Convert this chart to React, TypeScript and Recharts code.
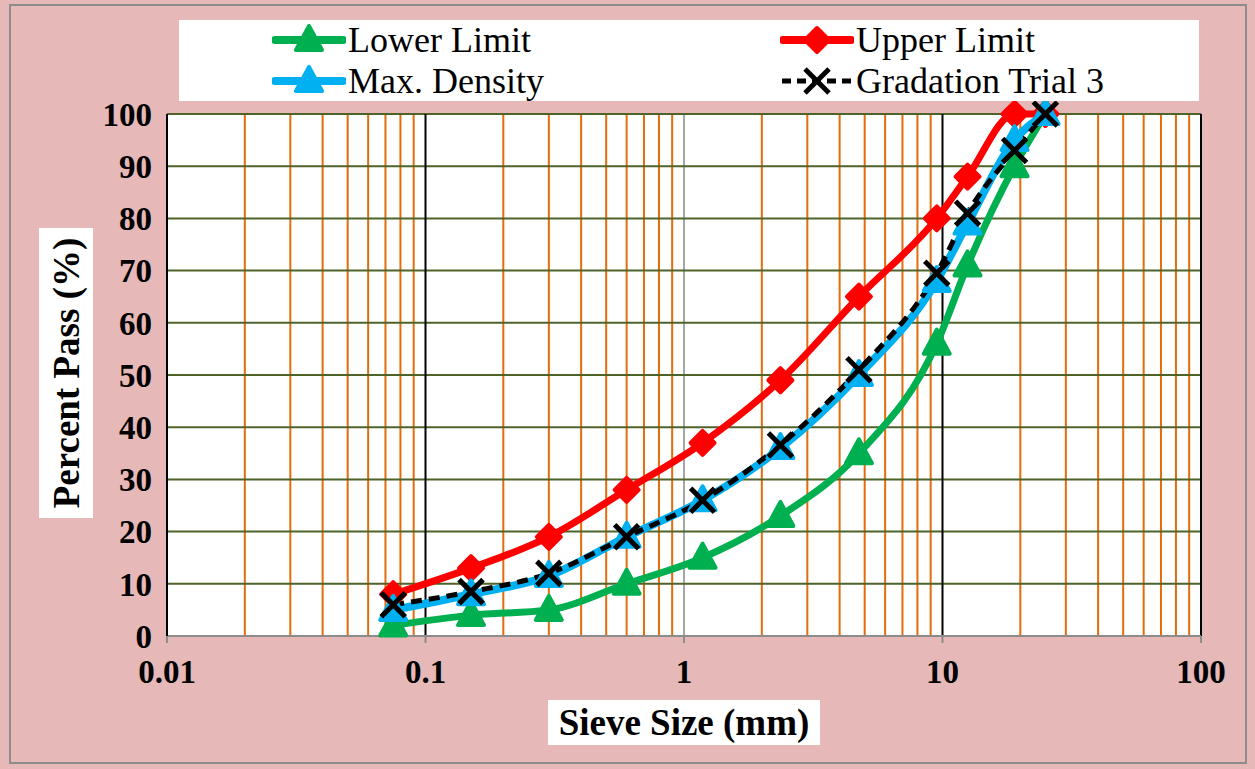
import React from 'react';
import { LineChart, Line, XAxis, YAxis, CartesianGrid, Label } from 'recharts';

const sieveSizes = [0.075, 0.15, 0.3, 0.6, 1.18, 2.36, 4.75, 9.5, 12.5, 19, 25];
const lowerLimit = [2, 4, 5, 10, 15, 23, 35, 56, 71, 90, 100];
const upperLimit = [8, 13, 19, 28, 37, 49, 65, 80, 88, 100, 100];
const maxDensity = [5, 8, 11.5, 19, 26, 36, 50, 68, 79, 95, 100];
const gradationTrial3 = [6, 8.5, 12, 19, 26, 36.6, 51, 69.5, 81, 93, 100];

const xTicks = [0.01, 0.1, 1, 10, 100];
const xTickLabels = ['0.01', '0.1', '1', '10', '100'];
const yTicks = [0, 10, 20, 30, 40, 50, 60, 70, 80, 90, 100];
const minorXTicks = [
  0.02, 0.03, 0.04, 0.05, 0.06, 0.07, 0.08, 0.09,
  0.2, 0.3, 0.4, 0.5, 0.6, 0.7, 0.8, 0.9,
  2, 3, 4, 5, 6, 7, 8, 9,
  20, 30, 40, 50, 60, 70, 80, 90,
];
const blackMajorX = [0.1, 10, 100];
const greyMajorX = [1];

const seriesNames = ['Lower Limit', 'Upper Limit', 'Max. Density', 'Gradation Trial 3'];

const data = sieveSizes.map((s, i) => ({
  size: s,
  lower: lowerLimit[i],
  upper: upperLimit[i],
  maxd: maxDensity[i],
  grad: gradationTrial3[i],
}));

const FONT = '"Liberation Serif", "Times New Roman", serif';
const GREEN = '#00B050';
const RED = '#FF0000';
const BLUE = '#00B0F0';
const PINK = '#E6B8B7';

const Triangle = ({ cx, cy, color }: any) => (
  <polygon
    points={`${cx},${cy - 14} ${cx - 13},${cy + 10} ${cx + 13},${cy + 10}`}
    fill={color}
    stroke={color}
    strokeWidth={4}
    strokeLinejoin="round"
  />
);
const Diamond = ({ cx, cy, color }: any) => (
  <polygon
    points={`${cx},${cy - 12} ${cx + 12},${cy} ${cx},${cy + 12} ${cx - 12},${cy}`}
    fill={color}
    stroke={color}
    strokeWidth={4}
    strokeLinejoin="round"
  />
);
const Cross = ({ cx, cy }: any) => (
  <g stroke="#000" strokeWidth={5}>
    <line x1={cx - 12} y1={cy - 12} x2={cx + 12} y2={cy + 12} />
    <line x1={cx - 12} y1={cy + 12} x2={cx + 12} y2={cy - 12} />
  </g>
);

const dotFn = (kind: string) => (props: any) => {
  const { cx, cy, index } = props;
  if (cx == null || cy == null) return <g key={`d${kind}${index}`} />;
  let el;
  if (kind === 'lower') el = <Triangle cx={cx} cy={cy} color={GREEN} />;
  else if (kind === 'upper') el = <Diamond cx={cx} cy={cy} color={RED} />;
  else if (kind === 'maxd') el = <Triangle cx={cx} cy={cy} color={BLUE} />;
  else el = <Cross cx={cx} cy={cy} />;
  return <g key={`d${kind}${index}`}>{el}</g>;
};

const genFor = (values: number[]) => (props: any) => {
  const { xAxis, offset } = props;
  if (xAxis && typeof xAxis.scale === 'function') {
    return values.map((v) => xAxis.scale(v));
  }
  return values.map((v) => offset.left + (offset.width * (Math.log10(v) + 2)) / 4);
};

const LegendIcon = ({ kind }: { kind: string }) => {
  const w = 74;
  const h = 32;
  const cy = 16;
  const cx = 37;
  let body;
  if (kind === 'lower')
    body = (
      <>
        <line x1={3} y1={cy} x2={w - 3} y2={cy} stroke={GREEN} strokeWidth={8} strokeLinecap="round" />
        <Triangle cx={cx} cy={cy} color={GREEN} />
      </>
    );
  else if (kind === 'upper')
    body = (
      <>
        <line x1={3} y1={cy} x2={w - 3} y2={cy} stroke={RED} strokeWidth={8} strokeLinecap="round" />
        <Diamond cx={cx} cy={cy} color={RED} />
      </>
    );
  else if (kind === 'maxd')
    body = (
      <>
        <line x1={3} y1={cy} x2={w - 3} y2={cy} stroke={BLUE} strokeWidth={8} strokeLinecap="round" />
        <Triangle cx={cx} cy={cy} color={BLUE} />
      </>
    );
  else
    body = (
      <>
        <line x1={2} y1={cy} x2={w - 2} y2={cy} stroke="#000" strokeWidth={5} strokeDasharray="9 6" />
        <Cross cx={cx} cy={cy} />
      </>
    );
  return (
    <svg width={w} height={h} style={{ display: 'block' }}>
      {body}
    </svg>
  );
};

const legendKinds = ['lower', 'upper', 'maxd', 'grad'];
const legendPos = [
  { left: 93, top: 4 },
  { left: 601, top: 4 },
  { left: 93, top: 45 },
  { left: 601, top: 45 },
];

const YTitle = (props: any) => {
  const vb = props.viewBox || { x: 0, y: 114, width: 167, height: 522 };
  const cx = 66;
  const cy = vb.y + vb.height / 2 - 2;
  return (
    <g>
      <rect x={cx - 27} y={cy - 145} width={54} height={290} fill="#fff" />
      <text
        x={cx}
        y={cy}
        transform={`rotate(-90 ${cx} ${cy})`}
        textAnchor="middle"
        dominantBaseline="central"
        fontFamily={FONT}
        fontWeight="bold"
        fontSize={37}
        fill="#000"
      >
        Percent Pass (%)
      </text>
    </g>
  );
};

const XTitle = (props: any) => {
  const vb = props.viewBox || { x: 167, y: 636, width: 1034, height: 133 };
  const cx = vb.x + vb.width / 2;
  const cy = 722;
  return (
    <g>
      <rect x={cx - 136} y={cy - 22} width={272} height={45} fill="#fff" />
      <text
        x={cx}
        y={cy}
        textAnchor="middle"
        dominantBaseline="central"
        fontFamily={FONT}
        fontWeight="bold"
        fontSize={37}
        fill="#000"
      >
        Sieve Size (mm)
      </text>
    </g>
  );
};

export default function App() {
  return (
    <div
      style={{
        position: 'absolute',
        left: 0,
        top: 0,
        width: 1255,
        height: 769,
        background: PINK,
        fontFamily: FONT,
      }}
    >
      <div
        style={{
          position: 'absolute',
          left: 9,
          top: 4,
          width: 1238,
          height: 760,
          border: '2px solid #8C8C8C',
          boxSizing: 'border-box',
        }}
      />
      <LineChart
        width={1255}
        height={769}
        data={data}
        margin={{ top: 114, right: 54, left: 0, bottom: 0 }}
        style={{ position: 'absolute', left: 0, top: 0 }}
      >
        <CartesianGrid
          stroke="#E46C0A"
          strokeWidth={2}
          horizontal={false}
          verticalCoordinatesGenerator={genFor(minorXTicks)}
          fill="#fff"
        />
        <CartesianGrid
          stroke="#A6A6A6"
          strokeWidth={2}
          horizontal={false}
          verticalCoordinatesGenerator={genFor(greyMajorX)}
        />
        <CartesianGrid
          stroke="#4F6228"
          strokeWidth={2}
          vertical={false}
        />
        <CartesianGrid
          stroke="#000"
          strokeWidth={2}
          horizontal={false}
          verticalCoordinatesGenerator={genFor(blackMajorX)}
        />
        <XAxis
          dataKey="size"
          type="number"
          scale="log"
          domain={[0.01, 100]}
          ticks={xTicks}
          allowDataOverflow
          height={133}
          stroke="#8C8C8C"
          strokeWidth={2}
          tickSize={7}
          tickMargin={17}
          tickFormatter={(v: number) => xTickLabels[xTicks.indexOf(v)] ?? String(v)}
          tick={{ fill: '#000', fontFamily: FONT, fontWeight: 'bold', fontSize: 33 }}
        >
          <Label content={<XTitle />} />
        </XAxis>
        <YAxis
          type="number"
          domain={[0, 100]}
          ticks={yTicks}
          width={167}
          axisLine={{ stroke: '#000', strokeWidth: 2 }}
          tickLine={false}
          tickSize={0}
          tickMargin={15}
          tick={{ fill: '#000', fontFamily: FONT, fontWeight: 'bold', fontSize: 33 }}
        >
          <Label content={<YTitle />} />
        </YAxis>
        <Line
          dataKey="lower"
          name={seriesNames[0]}
          type="monotone"
          stroke={GREEN}
          strokeWidth={7}
          dot={dotFn('lower')}
          isAnimationActive={false}
        />
        <Line
          dataKey="upper"
          name={seriesNames[1]}
          type="monotone"
          stroke={RED}
          strokeWidth={7}
          dot={dotFn('upper')}
          isAnimationActive={false}
        />
        <Line
          dataKey="maxd"
          name={seriesNames[2]}
          type="monotone"
          stroke={BLUE}
          strokeWidth={8}
          dot={dotFn('maxd')}
          isAnimationActive={false}
        />
        <Line
          dataKey="grad"
          name={seriesNames[3]}
          type="monotone"
          stroke="#000"
          strokeWidth={5}
          strokeDasharray="11 7"
          dot={dotFn('grad')}
          isAnimationActive={false}
        />
      </LineChart>
      <div
        style={{
          position: 'absolute',
          left: 179,
          top: 20,
          width: 1020,
          height: 81,
          background: '#fff',
        }}
      >
        {legendKinds.map((k, i) => (
          <div
            key={k}
            style={{
              position: 'absolute',
              left: legendPos[i].left,
              top: legendPos[i].top,
              display: 'flex',
              alignItems: 'center',
              height: 32,
              whiteSpace: 'nowrap',
            }}
          >
            <LegendIcon kind={k} />
            <span style={{ fontFamily: FONT, fontSize: 36, lineHeight: '32px', color: '#000', marginLeft: 2 }}>
              {seriesNames[i]}
            </span>
          </div>
        ))}
      </div>
    </div>
  );
}
